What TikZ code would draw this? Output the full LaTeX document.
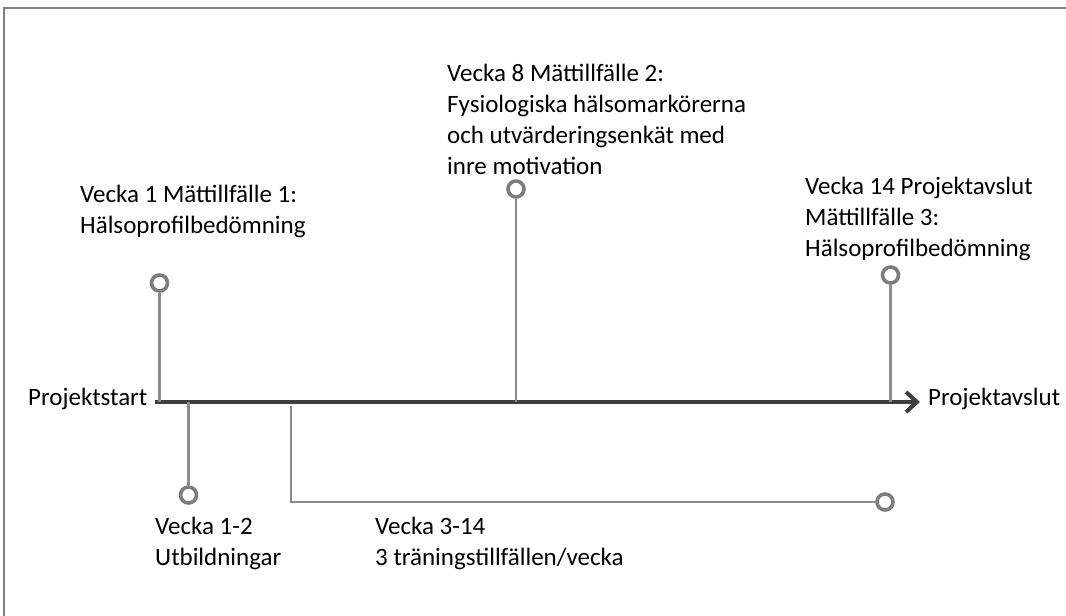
\documentclass[tikz,border=0pt]{standalone}
\usepackage{fontspec}
\setmainfont{Carlito}
\usetikzlibrary{arrows.meta,positioning,calc}
\definecolor{axisgray}{RGB}{62,62,62}
\definecolor{stemgray}{RGB}{140,140,140}
\definecolor{dotgray}{RGB}{125,125,125}

\begin{document}
\begin{tikzpicture}[x=1pt,y=-1pt, >={Straight Barb[length=11pt,width=20pt]}]
  \tikzstyle{label}=[inner sep=0pt, anchor=base west, align=left, font=\fontsize{25}{31}\selectfont]
  \tikzstyle{dot}=[circle, draw=dotgray, line width=3.6pt, fill=white, minimum size=16pt, inner sep=0pt]
  \tikzstyle{stem}=[draw=stemgray, line width=2.8pt]
  \useasboundingbox (0,0) rectangle (1066,616);
  \draw[gray, line width=1.2pt] (4,616) -- (4,8) -- (1066,8);
  % axis
  \node[label] (start) at (28,405) {Projektstart};
  \node[label] (end) at (928,405) {Projektavslut};
  \coordinate (a0) at (155,402);
  \coordinate (a1) at (920,402);
  \draw[->, axisgray, line width=4pt] (a0) -- (a1);
  % measurement points
  \node[dot] (m1) at (159.5,283) {};
  \node[dot] (m2) at (516,189) {};
  \node[dot] (m3) at (890.5,275) {};
  \node[dot] (u1) at (188.5,495) {};
  \node[dot] (t1) at (885,502) {};
  \draw[stem] (m1) -- (m1 |- a0);
  \draw[stem] (m2) -- (m2 |- a0);
  \draw[stem] (m3) -- (m3 |- a0);
  \draw[stem] (u1) -- (u1 |- a0);
  \coordinate (t0) at (291,406);
  \draw[stem] (t0) |- (t1);
  % texts (anchored at the last baseline)
  \node[label] (l1) at (80,233) {Vecka 1 Mättillfälle 1:\\Hälsoprofilbedömning};
  \node[label] (l2) at (447,174) {Vecka 8 Mättillfälle 2:\\Fysiologiska hälsomarkörerna\\och utvärderingsenkät med\\inre motivation};
  \node[label] (l3) at (805,256) {Vecka 14 Projektavslut\\Mättillfälle 3:\\Hälsoprofilbedömning};
  \node[label] (l4) at (155,565) {Vecka 1-2\\Utbildningar};
  \node[label] (l5) at (375,565) {Vecka 3-14\\3 träningstillfällen/vecka};
\end{tikzpicture}
\end{document}
